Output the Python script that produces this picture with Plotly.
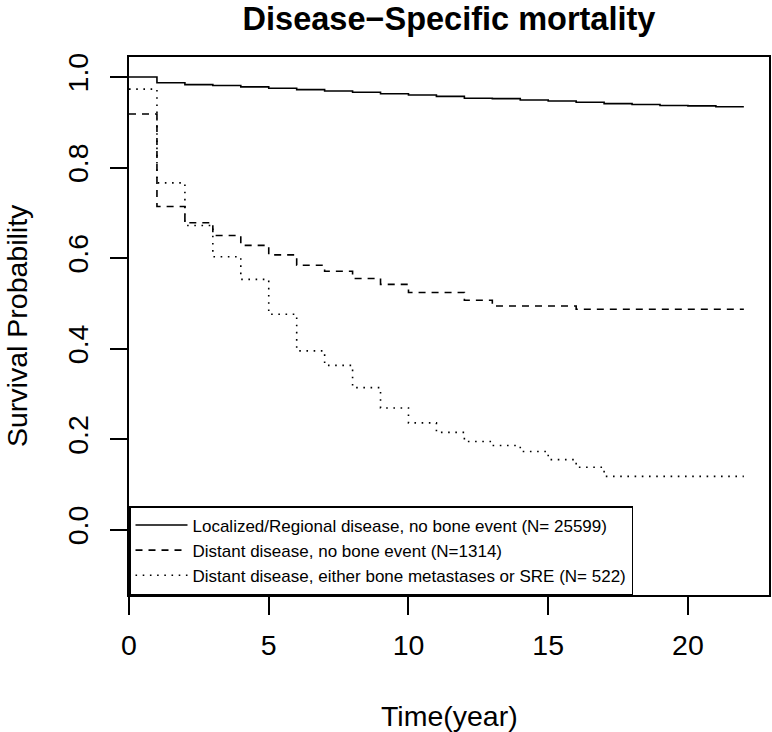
import plotly.graph_objects as go

# ---- data ----
years = list(range(0, 23))
localized = [1.000, 0.987, 0.983, 0.981, 0.978, 0.975, 0.972, 0.969, 0.966, 0.963,
             0.960, 0.957, 0.953, 0.952, 0.949, 0.947, 0.944, 0.941, 0.939, 0.937,
             0.936, 0.934, 0.934]
distant_no_bone = [0.918, 0.714, 0.678, 0.650, 0.628, 0.607, 0.584, 0.571, 0.555, 0.542,
                   0.524, 0.524, 0.507, 0.494, 0.494, 0.494, 0.487, 0.487, 0.487, 0.487,
                   0.487, 0.487, 0.487]
distant_bone = [0.973, 0.766, 0.672, 0.603, 0.553, 0.476, 0.395, 0.363, 0.314, 0.269,
                0.236, 0.215, 0.195, 0.186, 0.173, 0.155, 0.138, 0.118, 0.118, 0.118,
                0.118, 0.118, 0.118]
series_names = [
    "Localized/Regional disease, no bone event (N= 25599)",
    "Distant disease, no bone event (N=1314)",
    "Distant disease, either bone metastases or SRE (N= 522)",
]
x_ticks = [0, 5, 10, 15, 20]
y_ticks = [0.0, 0.2, 0.4, 0.6, 0.8, 1.0]
y_tick_text = ["0.0", "0.2", "0.4", "0.6", "0.8", "1.0"]

FONT = "Liberation Sans, Arial, Helvetica, sans-serif"
dashes = ["solid", "7px,6px", "1.6px,5.6px"]
all_series = [localized, distant_no_bone, distant_bone]

fig = go.Figure()
for name, ys, d in zip(series_names, all_series, dashes):
    fig.add_trace(go.Scatter(
        x=years, y=ys, mode="lines", name=name,
        line=dict(color="black", width=1.6, dash=d, shape="hv"),
    ))

axis_common = dict(
    showgrid=False, zeroline=False, showline=True, mirror=True,
    linecolor="black", linewidth=1.5, ticks="outside", tickcolor="black",
    tickwidth=1.5, tickfont=dict(family=FONT, size=28.5, color="black"),
)

fig.update_layout(
    width=772, height=732,
    paper_bgcolor="white", plot_bgcolor="white",
    margin=dict(l=129, r=1, t=57, b=137),
    font=dict(family=FONT, color="black"),
    title=dict(text="<b>Disease\u2212Specific mortality</b>",
               font=dict(family=FONT, size=32.5, color="black"),
               x=0.5, xref="paper", xanchor="center",
               y=1 - 19 / 732, yref="container", yanchor="middle"),
    xaxis=dict(range=[0, 22.9], tickvals=x_ticks, ticklen=18,
               ticklabelstandoff=6, **axis_common),
    yaxis=dict(range=[-0.144, 1.044], tickvals=y_ticks, ticktext=y_tick_text,
               ticklen=17, tickangle=-90, ticklabelstandoff=11, **axis_common),
    showlegend=True,
    legend=dict(x=0, y=0, xanchor="left", yanchor="bottom",
                bordercolor="black", borderwidth=1.5, bgcolor="white",
                font=dict(family=FONT, size=17, color="black"),
                traceorder="normal", itemwidth=52, tracegroupgap=0),
    annotations=[
        dict(text="Time(year)", xref="paper", yref="paper", x=0.5, y=0,
             xanchor="center", yanchor="middle", yshift=-121, showarrow=False,
             font=dict(family=FONT, size=28.5, color="black")),
        dict(text="Survival Probability", xref="paper", yref="paper", x=0, y=0.5,
             xanchor="center", yanchor="middle", xshift=-112, textangle=-90,
             showarrow=False, font=dict(family=FONT, size=28.5, color="black")),
    ],
)

fig.write_html("out.html", config={"displayModeBar": False})

# remove the browser's default page margin so the figure sits at (0, 0)
with open("out.html", "r", encoding="utf-8") as f:
    html = f.read()
html = html.replace("<head>", "<head><style>html,body{margin:0;padding:0;overflow:hidden;}</style>", 1)
with open("out.html", "w", encoding="utf-8") as f:
    f.write(html)
